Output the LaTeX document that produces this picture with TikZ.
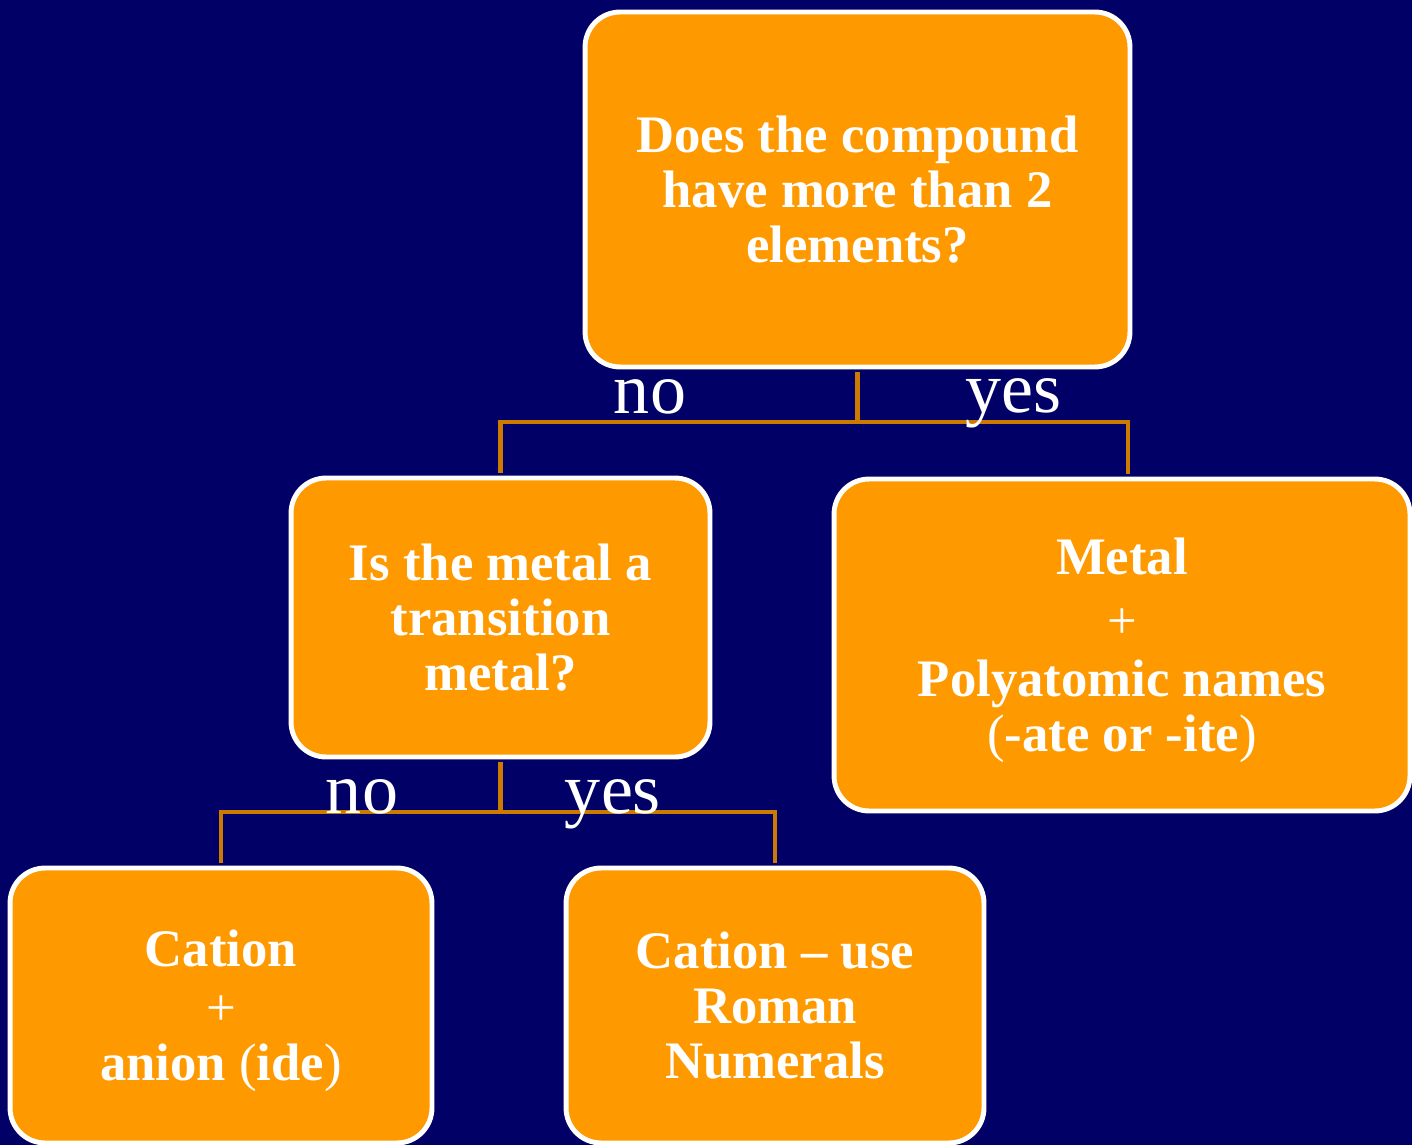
\documentclass[tikz,border=0pt]{standalone}
\usepackage{fontspec}
\setmainfont{Liberation Serif}
\usetikzlibrary{positioning,calc}
\definecolor{navy}{HTML}{000066}
\definecolor{boxfill}{HTML}{FF9900}
\definecolor{link}{HTML}{CC7A00}

\begin{document}
\begin{tikzpicture}[x=0.02cm, y=-0.02cm,
    box/.style={draw=white, line width=2.8pt, fill=boxfill, rounded corners=0.7cm, align=center, text=white, inner sep=0pt, font=\fontsize{30}{31.3}\selectfont\bfseries},
    conn/.style={draw=link, line width=2.3pt, shorten <=1.4pt},
    ans/.style={text=white, anchor=base, font=\fontsize{41}{41}\selectfont}
]
    \fill[navy] (0,0) rectangle (1412,1145);
    \useasboundingbox (0,0) rectangle (1412,1145);

    % question boxes
    \node[box, minimum width=10.9cm, minimum height=7.1cm] (top) at (857.5,189.5) {Does the compound\\have more than 2\\elements?};
    \node[box, minimum width=8.38cm, minimum height=5.58cm] (metal) at (500.5,617.5) {Is the metal a\\transition\\metal?};

    % answer boxes
    \node[box, minimum width=11.52cm, minimum height=6.64cm] (poly) at (1122,645) {\rule{0pt}{27pt}Metal\\[5pt]{\mdseries +}\\[2pt]Polyatomic names\\{\mdseries(}-ate or -ite{\mdseries)}};
    \node[box, minimum width=8.44cm, minimum height=5.5cm] (ide) at (221,1005.5) {\rule{0pt}{27pt}Cation\\[2pt]{\mdseries +}\\anion {\mdseries(}ide{\mdseries)}};
    \node[box, minimum width=8.36cm, minimum height=5.5cm] (roman) at (775,1005.5) {Cation -- use\\Roman\\Numerals};

    \coordinate (j1) at (857.5,422);
    \coordinate (j2) at (500.5,812);

    \draw[conn] (top.south) -- (j1);
    \draw[conn, shorten >=1.4pt] (metal.north) |- (j1) -| ($(poly.north)+(6,0)$);
    \draw[conn] (metal.south) -- (j2);
    \draw[conn, shorten >=1.4pt] (ide.north) |- (j2) -| (roman.north);

    \node[ans] (no1) at (650,413) {no};
    \node[ans] (yes1) at (1013,412) {yes};
    \node[ans] (no2) at (362,813) {no};
    \node[ans] (yes2) at (613,813) {yes};
\end{tikzpicture}
\end{document}
